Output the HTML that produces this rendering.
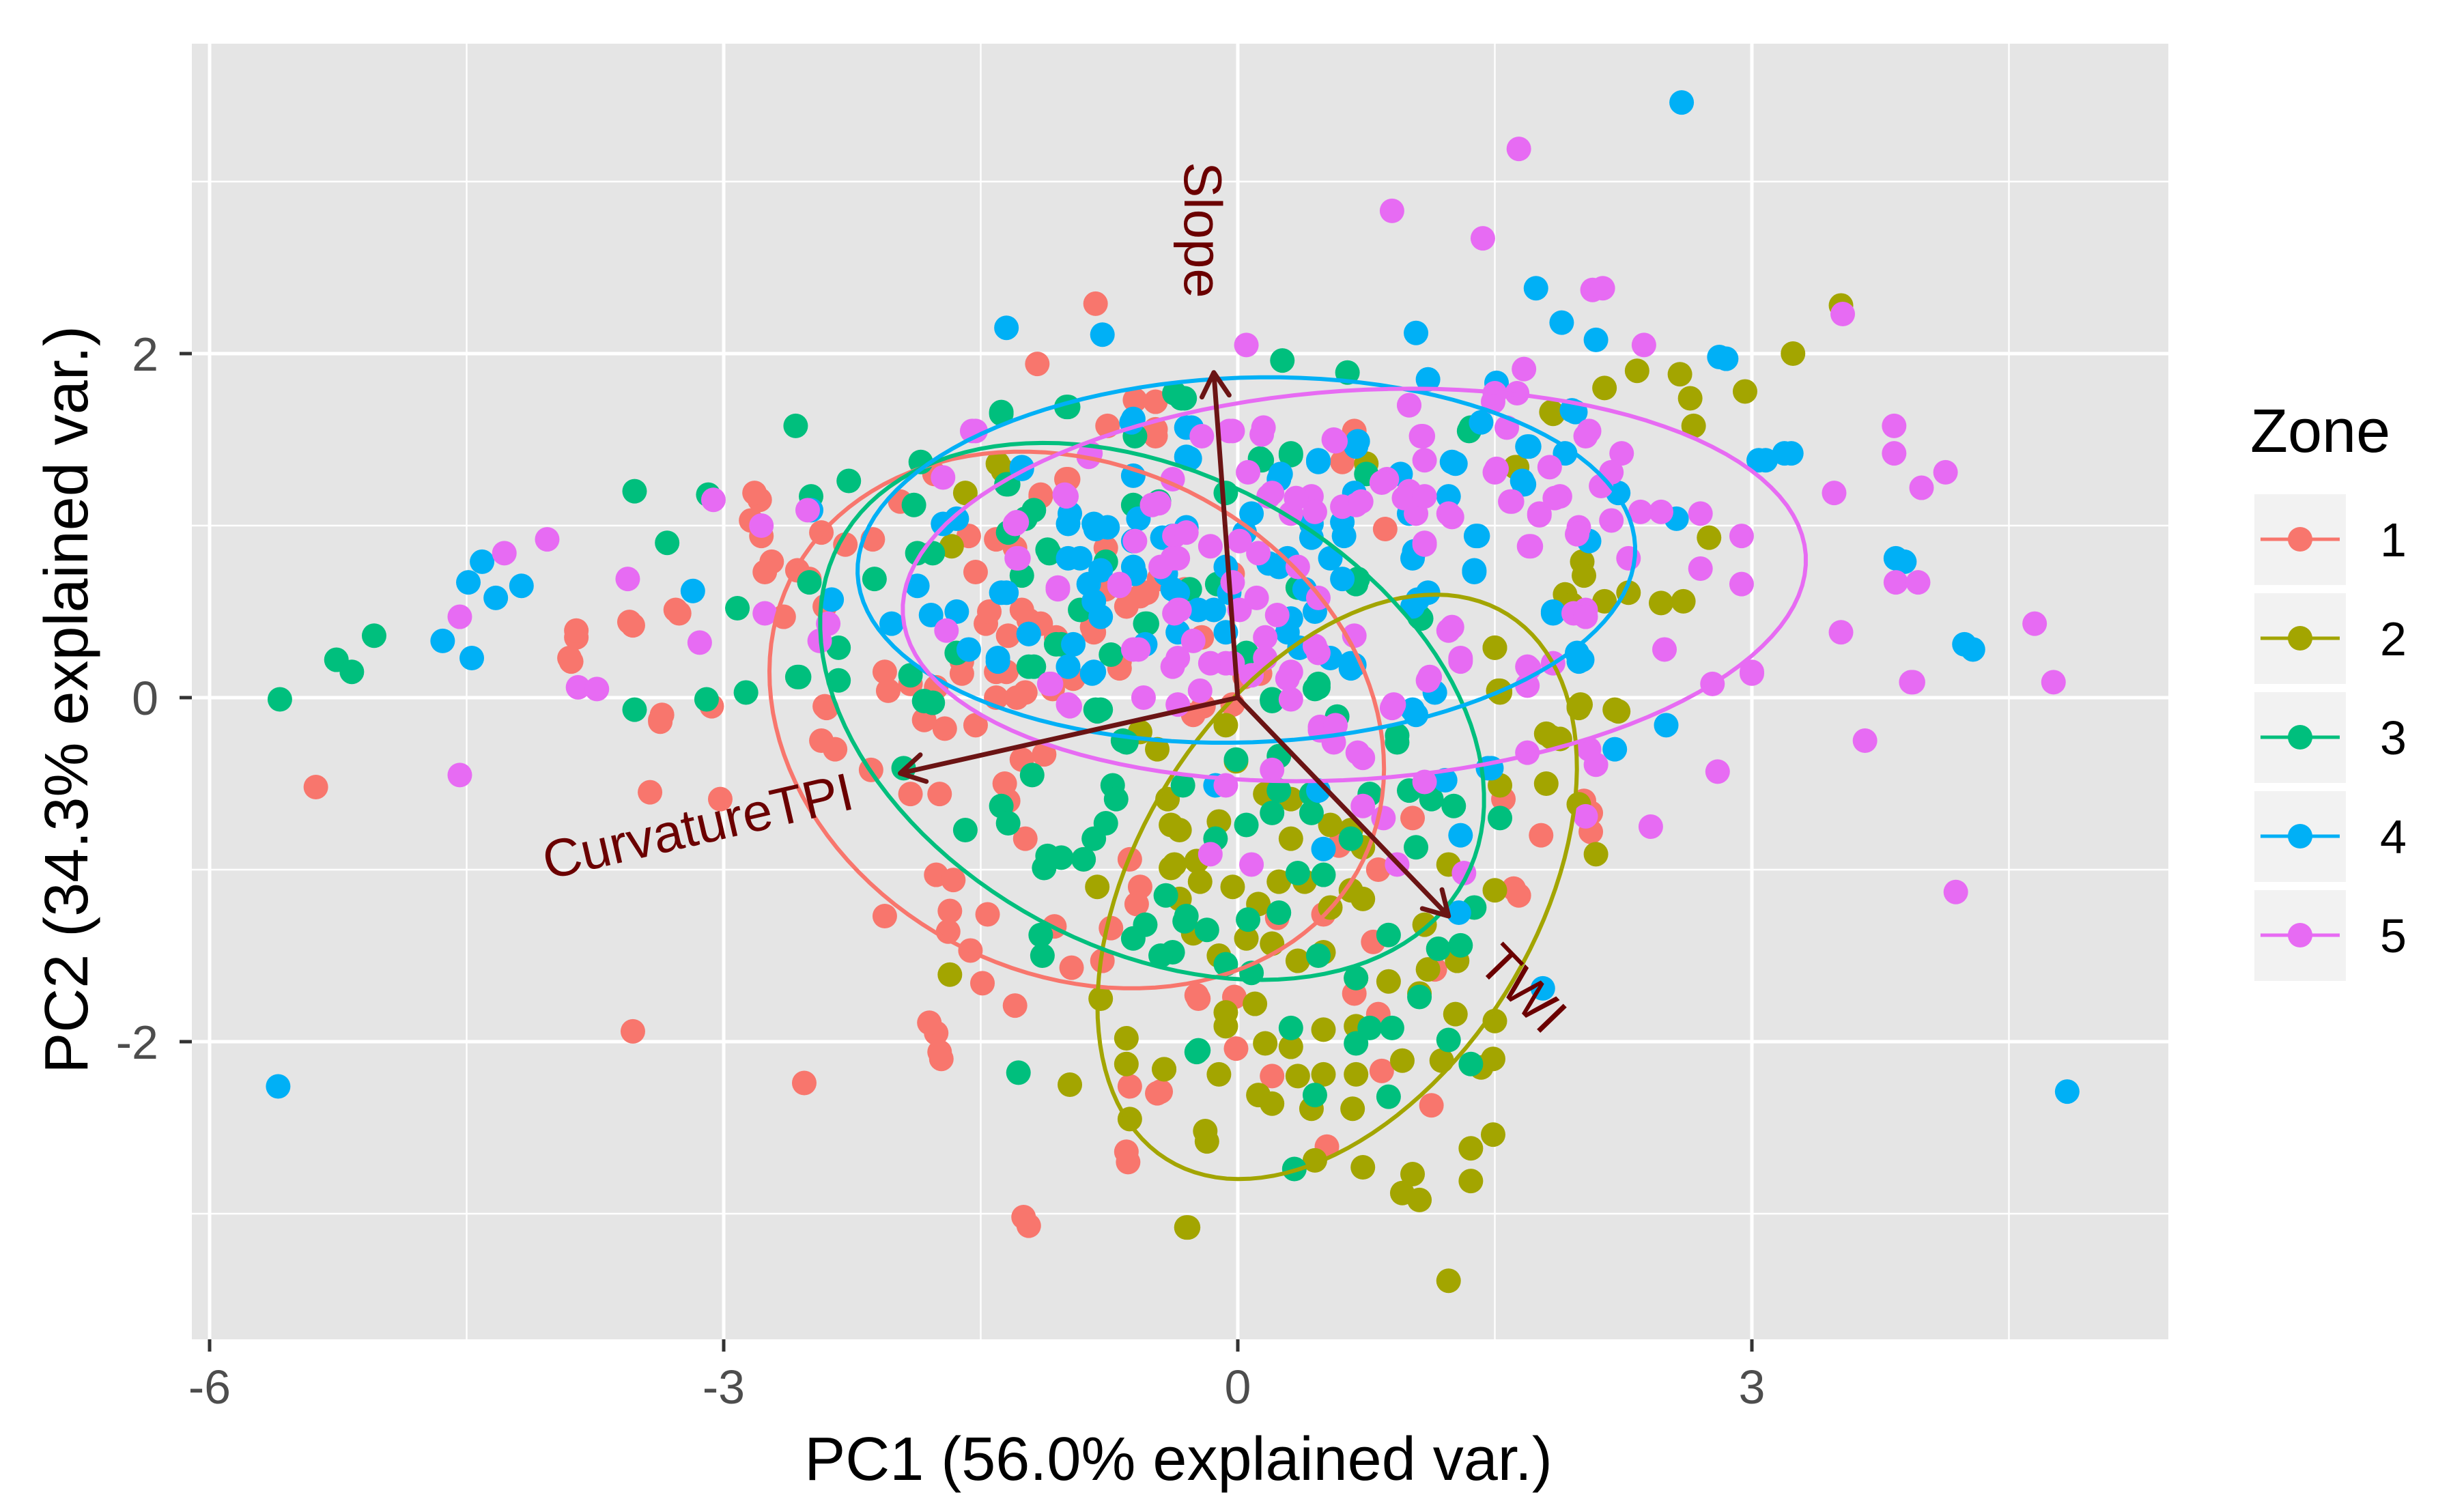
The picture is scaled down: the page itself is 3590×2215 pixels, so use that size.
<!DOCTYPE html>
<html><head><meta charset="utf-8"><title>PCA biplot by Zone</title>
<style>
html,body{margin:0;padding:0;background:#fff;}
svg{display:block;font-family:"Liberation Sans",Arial,sans-serif;}
</style></head>
<body>
<svg id="chart" width="3590" height="2215" viewBox="0 0 3590 2215" xmlns="http://www.w3.org/2000/svg">
<defs><clipPath id="pclip"><rect x="281" y="64" width="2895" height="1898"/></clipPath></defs>
<rect x="281" y="64" width="2895" height="1898" fill="#E5E5E5"/>
<g id="grid"></g>
<g id="pts" clip-path="url(#pclip)"></g>
<g id="ells" clip-path="url(#pclip)"></g>
<g id="arrows"></g>
<g id="axes"></g>
<text x="1726" y="2168" font-size="90" text-anchor="middle" fill="#000">PC1 (56.0% explained var.)</text>
<text transform="translate(128,1025) rotate(-90)" font-size="90" text-anchor="middle" fill="#000">PC2 (34.3% explained var.)</text>
<g id="legend">
<text x="3296" y="662" font-size="90" fill="#000">Zone</text>
</g>
</svg>
<script>
const xTicks=[-6,-3,0,3];
const xMinor=[-4.5,-1.5,1.5,4.5];
const yTicks=[-2,0,2];
const yMinor=[-3,-1,1,3];
const zones=["1","2","3","4","5"];
const zoneColors=["#F8766D","#A3A500","#00BF7D","#00B0F6","#E76BF3"];
const zone1Points=[[-5.38,-0.52],[-3.53,-1.94],[-2.53,-2.24],[-1.22,-3.07],[-0.83,2.29],[-1.17,1.94],[-1.73,-2.1],[-1.76,-1.95],[-0.64,-2.7],[-3.86,0.35],[-3.89,0.21],[-3.53,0.42],[-3.26,0.49],[-3.37,-0.14],[-3.02,-0.59],[-2.79,1.15],[-2.78,0.94],[-2.72,0.79],[-2.5,0.69],[-2.41,0.53],[2.06,-0.67],[2.06,-0.78],[1.64,-1.15],
[-2.4,-0.06],[-2.43,-0.25],[-2.35,-0.3],[-2.14,-0.42],[-1.91,-0.56],[-1.74,-0.56],[-1.76,-1.03],[-1.66,-1.06],[-1.68,-1.24],[-1.46,-1.26],[-1.69,-1.36],[-1.56,-1.47],[-2.06,-1.27],[-1.49,-1.66],[-1.3,-1.79],[-1.8,-1.89],[-1.74,-2.06],[-0.97,-1.57],[-0.79,-1.53],[-0.65,-2.64],[-0.47,-2.3],[-0.63,-2.26],[-1.24,-0.82],[-1.34,-0.6],[-1.36,-0.5],[-1.13,-0.33],[-1.71,-0.18],[-2.04,0.04],[-3.43,-0.55],[-3.37,-0.13],[-3.07,-0.05],[-1.25,-3.02],
[1.61,-1.11],[1.77,-0.8],[1.55,-0.59],[2.02,-0.6],[1.13,-2.37],[0.84,-2.17],[0.2,-2.2],[-0.01,-2.04],[-0.45,-2.29],[0.52,-2.61],[0.79,-1.42],[0.82,-1.0],[-0.24,-1.73],[-0.02,-1.74],[0.68,-1.72],[0.82,-1.84],[1.15,-1.58],[1.02,-0.7],[0.59,-0.86],[-0.2,-0.05],[0.5,-1.26],[0.23,-1.28],
[-2.82,1.19],[-2.84,1.03],[-2.43,0.96],[-2.29,0.89],[-2.13,0.92],[-2.76,0.73],[-2.57,0.74],[-2.65,0.47],[-3.28,0.51],[-3.55,0.44],[-3.86,0.39],[-3.9,0.23],[-1.97,1.14],[-1.77,1.3],[-0.48,1.52],[-0.6,1.73],
[-1.57,0.94],[-1.41,0.92],[-1.3,0.87],[-1.15,1.17],[-1.0,1.27],[-1.53,0.73],[-1.47,0.43],[-1.34,0.36],[-1.15,0.43],[-1.26,0.51],[-0.84,0.38],[-2.06,0.15],[-1.91,0.08],[-1.76,0.06],[-1.61,0.21],[-1.41,0.15],[-1.24,0.03],[-0.96,0.11],[-0.69,0.21],[-0.77,0.63],[-0.57,0.59],[-0.46,0.69],[-0.31,0.63],[-0.77,0.87],[-2.41,-0.05],[-3.36,-0.1],
[-1.61,0.14],[-1.53,-0.16],[-1.41,0],[-0.9,-0.94],[-0.63,-0.94],[-0.57,-1.1],[-0.74,-1.34],[-1.07,-1.33],[-0.23,-1.75],[-0.59,-1.2],[-1.26,-0.36],[-1.83,-0.13],
[-0.48,1.72],[-0.76,1.58],[-0.48,1.56],[-0.99,1.27],[-1.15,1.18],[-1.35,0.93],[-1.45,0.5],[-1.22,0.45],[-1.06,0.35],[-0.85,0.41],[-0.65,0.53],[-0.53,0.61],[-1.35,0.15],[-1.29,0],[-1.08,0.05],[-0.69,0.17],[-0.21,0.35],[0.04,0.12],[0.13,0.14],[-0.03,-0.04],[-0.26,-0.1],[0.61,1.37],[0.68,1.55],[0.86,0.98],[-0.03,0.72]];
const zone2Points=[[1.23,-3.39],[-0.3,-3.08],[1.06,-2.92],[0.96,-2.88],[1.02,-2.77],[1.36,-2.81],[1.36,-2.62],[1.49,-2.54],[0.73,-2.73],[0.45,-2.69],[-0.18,-2.58],[1.49,-2.1],[1.42,-2.15],
[1.19,-2.11],[0.96,-2.11],[0.67,-2.39],[0.43,-2.39],[0.2,-2.36],[0.12,-2.31],[0.69,-2.19],[0.5,-2.19],[0.35,-2.2],[-0.11,-2.19],[-0.43,-2.16],[0.16,-2.01],[0.31,-2.03],[0.5,-1.93],[0.69,-1.91],[-0.07,-1.91],[-0.07,-1.83],[0.1,-1.78],[1.27,-1.84],[1.5,-1.88],[1.06,-1.72],[1.11,-1.58],[1.28,-1.53],[0.69,-1.63],[0.88,-1.65],[0.35,-1.53],[0.5,-1.48],[0.2,-1.43],[0.05,-1.4],[-0.11,-1.5],[-0.26,-1.37],[-0.34,-1.17],[-0.22,-1.07],[-0.03,-1.1],[0.24,-1.07],[0.39,-1.07],[0.66,-1.12],[0.73,-1.17],[0.54,-1.22],[0.12,-1.2],[-0.37,-0.97],[-0.34,-0.77],[-0.11,-0.72],[0.31,-0.82],[0.54,-0.74],[0.66,-0.77],[0.73,-0.87],[1.23,-0.97],[1.5,-1.12],[1.09,-1.32],[-0.41,-0.59],[-0.01,-0.37],[0.16,-0.56],[0.31,-0.59],[1.8,-0.21],[1.88,-0.24],[1.99,-0.06],[2.22,-0.08],[1.53,0.04],[1.53,-0.51],[1.8,-0.5],[2.09,-0.91],[1.99,-0.62],[-0.07,-0.16],
[-1.68,-1.61],[-0.65,-1.98],[-0.65,-2.13],[-0.43,-2.16],[-0.98,-2.25],[-0.63,-2.45],[-0.29,-3.08],[-0.19,-2.52],[-0.82,-1.1],[-0.57,-0.2],[-0.47,-0.3],[-0.39,-0.74],[-0.39,-0.99],[-0.24,-0.95],[-0.8,-1.75],
[3.52,2.28],[3.24,2.0],[2.96,1.78],[2.64,1.74],[2.66,1.58],[2.58,1.88],[2.33,1.9],[2.14,1.8],[1.84,1.65],[2.75,0.93],[2.01,0.79],[1.91,0.6],[2.14,0.56],[2.28,0.61],[2.47,0.55],[2.6,0.56],[1.5,0.29],[1.63,1.34],[1.53,0.03],[1.99,-0.05],[2.2,-0.07],[-1.59,1.19],[-1.37,1.32],[-1.67,0.88],
[1.5,0.29],[1.52,0.04],[1.62,1.34],[1.83,1.66],[1.95,0.54],[2.02,0.71],[2.0,-0.04],[1.83,-0.23],[0.75,1.36],[-1.4,1.36]];
const zone3Points=[[-5.59,-0.01],[-5.26,0.22],[-5.17,0.15],[-5.04,0.36],[-3.52,1.2],[-3.33,0.9],[-3.09,1.18],[-2.92,0.52],[-2.58,1.58],[-2.49,1.17],[-2.27,1.26],[-1.89,1.12],[-1.85,1.37],[-2.12,0.69],[-2.5,0.67],[-2.33,0.29],[-2.56,0.12],[-2.33,0.1],[-2.87,0.03],[-3.1,-0.01],[-3.52,-0.07],[-1.38,1.65],[-1.0,1.69],[-0.31,1.74],[-1.34,1.24],
[-1.19,1.09],[-1.34,0.96],[-1.11,0.86],[-1.26,0.71],[-0.92,0.51],[-0.77,0.79],[-1.87,0.84],[-1.78,0.84],[-1.64,0.26],[-1.19,0.18],[-1.03,0.31],[-0.8,-0.07],[-0.54,0.43],[-0.61,1.12],[-0.46,1.14],[-1.83,-0.02],[-1.91,0.13],
[-2.57,0.12],[-1.95,-0.41],[-1.59,-0.77],[-1.78,-0.03],[-1.38,-0.63],[-1.34,-0.73],[-1.2,-0.45],[-1.11,-0.92],[-1.13,-0.99],[-1.03,-0.93],[-1.15,-1.38],[-1.14,-1.5],[-1.28,-2.18],[-0.9,-0.94],[-0.84,-0.82],[-0.77,-0.73],[-0.73,-0.51],[-0.71,-0.59],[-0.82,-0.08],[-0.65,-0.26],[-0.54,-1.32],[-0.61,-1.4],[-0.42,-1.15],[-0.31,-1.3],[-0.38,-1.48],[-0.23,-2.05],
[0.2,-0.01],[0.47,0.06],[0.93,-0.26],[1.53,-0.7],[1.26,-0.63],[1.04,-0.87],[1.38,-1.22],[1.3,-1.44],[1.17,-1.46],[0.88,-1.38],[1.06,-1.74],[1.23,-1.99],[1.36,-2.13],[0.88,-2.32],[0.45,-2.31],[0.69,-2.01],[0.31,-1.92],[0.77,-1.92],[0.9,-1.92],[-0.24,-2.06],[0.33,-2.74],[0.47,-1.5],[0.69,-1.63],[0.08,-1.6],[-0.07,-1.55],[-0.3,-1.27],[-0.18,-1.35],[0.06,-1.29],[0.24,-1.25],[0.35,-1.02],[0.5,-1.03],[0.05,-0.74],[0.2,-0.67],[0.43,-0.67],[0.66,-0.82],[0.77,-0.56],[1.0,-0.54],[1.13,-0.59],[0.43,-0.56],[0.24,-0.54],[-0.13,-0.82],[-0.32,-0.51],[0.58,-0.11],[0.24,-0.34],[-0.01,-0.36],[-0.45,-1.5],
[0.26,1.96],[0.64,1.89],[0.14,1.38],[0.31,1.41],[1.36,1.57],[0.69,0.66],[1.06,0.47],[0.47,0.08],[0.2,-0.02],[-0.37,1.77],[0.05,0.26],[0.35,0.64],
[-1.38,1.66],[-0.99,1.69],[-0.6,1.52],[-0.33,1.74],[-1.35,1.24],[-1.24,1.04],[-1.1,0.84],[-1.22,0.18],[-1.06,0.31],[-0.74,0.25],[-0.53,0.43],[-0.83,-0.07],[0.13,1.39],[0.31,1.42],[0.45,0.05],[0.2,-0.01],[0.7,0.69],[0.75,1.3],[1.35,1.55],[1.07,0.46],[0.93,-0.22],[-0.67,-0.25],[-0.07,1.19],[-0.28,0.63],[-0.12,0.66]];
const zone4Points=[[-5.6,-2.26],[2.59,3.46],[4.84,-2.29],[4.29,0.28],[3.89,0.79],[2.85,1.97],[3.23,1.42],[3.08,1.38],
[-1.35,2.15],[-0.79,2.11],[-4.41,0.79],[-4.49,0.67],[-4.33,0.58],[-4.18,0.65],[-4.64,0.33],[-4.47,0.23],[-3.18,0.62],[-2.49,1.09],[-2.37,0.57],[-2.02,0.43],[-1.87,0.65],[-1.79,0.48],[-1.64,0.5],[-1.57,0.28],[-1.4,0.23],[-1.22,0.37],[-0.99,0.18],[-0.84,0.15],[-1.38,0.61],[-1.72,1.01],[-1.64,1.04],[-1.26,1.34],[-0.61,0.91],[-0.61,1.29],[-0.61,1.62],[-0.27,1.57],[-0.29,1.39],[-0.98,1.07],[-0.84,1.01],[-0.99,0.81],[-0.8,0.74],[-0.61,0.76],[-0.38,0.94],[-0.38,0.63],[-0.23,0.51],[-0.84,0.56],[-0.54,0.31],[-0.35,0.38],[-0.96,0.31],
[1.74,2.38],[1.89,2.18],[2.09,2.08],[1.04,2.12],[2.81,1.98],[3.04,1.38],[3.19,1.42],[1.11,1.85],[1.51,1.83],[1.42,1.6],[1.69,1.46],[1.91,1.42],[1.97,1.66],[1.67,1.24],[1.27,1.36],[0.69,1.46],[0.47,1.38],[0.24,1.27],[0.08,1.07],[0.43,1.01],[0.62,0.94],[1.0,1.07],[1.23,1.17],[1.4,0.94],[1.38,0.74],[1.02,0.81],[2.22,1.19],[2.56,1.04],[2.05,0.91],[3.84,0.81],[4.24,0.31],[1.84,0.5],[2.01,0.22],[1.11,0.61],[1.02,0.53],[-0.3,1.57],[-0.28,1.39],[-0.3,0.99],[-0.07,0.76],[0.24,0.76],[0.54,0.81],[-0.14,0.51],[0.31,0.46],[0.66,0.2],
[1.78,-1.69],[1.29,-1.25],[1.3,-0.8],[0.5,-0.88],[2.5,-0.16],[2.2,-0.3],[1.48,-0.41],[1.21,-0.48],[1.04,-0.1],[1.15,0.03],[0.66,0.17],[1.99,0.21],[0.47,-0.54],[-0.13,-0.51],
[-0.3,1.4],[-0.83,0.98],[-0.99,1.01],[-0.76,0.99],[-0.58,1.04],[-0.44,0.93],[-0.92,0.81],[-0.87,0.66],[-0.6,0.72],[-0.42,0.72],[-0.35,0.61],[-0.8,0.47],[-1.22,0.37],[-0.99,0.18],[-0.85,0.14],[-1.4,0.21],[-1.35,0.61],[-0.07,0.38],[-0.05,0.61],[0.04,0.96],[0.18,0.78],[0.29,0.81],[0.39,0.63],[0.45,0.5],[0.29,0.38],[0.36,0.29],[0.54,0.23],[0.61,0.69],[0.61,1.02],[0.47,1.37],[0.7,1.49],[0.68,1.19],[0.95,1.3],[1.25,1.37],[1.39,0.94],[1.38,0.73],[1.03,0.85],[1.05,0.57],[0.68,0.19],[1.02,-0.07],[1.66,1.26],[1.7,1.46],[1.95,1.67],[1.84,0.49],[1.98,0.26],[1.46,-0.41],[-0.62,1.6],[-1.26,1.33],[0.25,1.3],[0.43,0.93]];
const zone5Points=[[-4.03,0.92],[-4.28,0.84],[-4.54,0.47],[-3.85,0.06],[-3.74,0.05],[-4.54,-0.45],[-3.14,0.32],[-3.06,1.15],[-3.56,0.69],[-2.78,1.0],[-2.76,0.49],[-2.51,1.09],[-1.53,1.55],[-1.72,1.28],
[0.05,2.05],[0.9,2.83],[1.43,2.67],[1.64,3.19],[2.07,2.37],[2.13,2.38],[2.37,2.05],[3.53,2.23],[3.83,1.58],[3.83,1.42],[4.13,1.31],[3.99,1.22],[3.48,1.19],[3.84,0.67],[3.97,0.67],[3.52,0.38],[4.65,0.43],[4.76,0.09],[3.93,0.09],[3.0,0.15],[2.77,0.08],[2.94,0.94],[2.94,0.66],[2.7,0.75],[2.7,1.07],[2.47,1.08],[2.35,1.08],[2.49,0.28],[2.24,1.42],[2.18,1.31],[2.12,1.23],[2.05,1.55],[2.18,1.03],[2.28,0.81],[1.99,0.99],[2.03,0.51],[1.88,1.17],[1.82,1.34],[1.76,1.07],[1.7,0.88],[1.59,1.14],[1.51,1.33],[1.57,1.57],[1.63,1.77],[1.67,1.91],[1.49,1.72],[1.0,1.7],[1.08,1.52],[1.09,1.38],[0.56,1.5],[0.14,1.53],[-0.05,1.55],[0.87,1.27],[1.0,1.2],[1.04,1.07],[1.23,1.07],[1.09,0.89],[0.43,1.17],[0.31,1.07],[0.18,1.17],[0.69,1.12],[-0.37,0.94],[-0.45,0.76],[0.01,0.91],[0.12,0.84],[0.35,0.76],[0.47,0.58],[0.01,0.51],[-0.34,0.51],[-0.26,0.33],[-0.07,0.2],[0.08,0.13],[0.31,0.15],[0.47,0.26],[1.25,0.41],[1.3,0.22],[1.11,0.1],[1.7,0.17],[1.84,0.2],
[-1.0,1.17],[-0.5,1.12],[-0.38,1.27],[-0.38,0.81],[-1.3,1.01],[-1.28,0.81],[-1.05,0.64],[-0.69,0.65],[-0.35,0.51],[-0.61,0.28],[-0.38,0.18],[-1.09,0.08],[-0.98,-0.05],[-1.7,0.39],[-2.39,0.43],[-2.44,0.33],[-1.55,1.55],[-0.86,1.42],[-0.21,1.52],
[0.9,-0.06],[0.48,-0.17],[0.56,-0.26],[0.73,-0.35],[0.2,-0.42],[-0.07,-0.51],[0.73,-0.63],[0.85,-0.7],[0.93,-0.97],[1.32,-1.02],[1.09,-0.49],[-0.16,-0.91],[0.08,-0.97],[1.69,-0.32],[2.03,-0.69],[2.09,-0.39],[2.41,-0.75],[2.8,-0.43],[3.66,-0.25],[4.19,-1.13],[3.0,0.14],[3.94,0.09],[1.69,0.07],[1.3,0.21],[0.31,-0.01],[-0.22,0.04],
[-0.03,1.55],[0.15,1.57],[0.06,1.31],[0.2,1.19],[0.34,1.16],[0.45,1.08],[0.57,1.49],[0.61,1.11],[0.72,1.14],[0.84,1.25],[0.97,1.16],[1.09,1.17],[1.25,1.05],[1.09,0.9],[1.07,1.52],[1.0,1.7],[1.5,1.31],[1.6,1.14],[1.76,1.06],[1.71,0.88],[1.85,1.16],[1.98,0.95],[2.03,1.52],[1.5,1.77],[-0.46,1.13],[-0.3,0.96],[-0.16,0.88],[-0.35,0.81],[-0.6,0.91],[-1.01,1.18],[-1.29,1.02],[-1.29,0.81],[-1.05,0.63],[-0.69,0.66],[-0.37,0.49],[-0.03,0.67],[0.11,0.58],[0.23,0.48],[0.16,0.35],[-0.16,0.2],[-0.03,0.2],[-0.35,0.23],[-0.58,0.28],[-1.1,0.08],[-0.99,-0.04],[-0.55,0],[-0.35,-0.04],[0.16,0.23],[0.29,0.11],[0.45,0.3],[0.48,-0.19],[0.57,-0.16],[0.7,-0.32],[0.68,0.36],[0.91,-0.04],[1.12,0.12],[1.23,0.39],[1.3,0.23],[1.69,0.18],[1.96,0.49],[2.03,0.47],[-0.87,1.4],[2.05,-0.3]];
const ellCenterX=[-0.94,0.58,-0.5,0.05,0.68];
const ellCenterY=[-0.13,-1.1,-0.08,0.8,0.655];
const ellA=[1.86,1.87,2.07,2.27,2.64];
const ellB=[1.48,1.16,1.38,1.06,1.13];
const ellAngle=[-26,57.8,-28.2,2,3.8];
const arrowNames=["Slope","CurvatureTPI","TWI"];
const arrowX=[-0.14,-1.97,1.23];
const arrowY=[1.89,-0.44,-1.27];

const NS="http://www.w3.org/2000/svg";
function sx(v){return 1813+v*251;}
function sy(v){return 1022-v*252;}
function mk(tag,attrs,parent){const e=document.createElementNS(NS,tag);for(const k in attrs)e.setAttribute(k,attrs[k]);parent.appendChild(e);return e;}

const grid=document.getElementById('grid');
xMinor.forEach(v=>{const l=mk('line',{x1:sx(v),x2:sx(v),y1:64,y2:1962,stroke:'#fff','stroke-width':2.4},grid);

});
yMinor.forEach(v=>{const l=mk('line',{x1:281,x2:3176,y1:sy(v),y2:sy(v),stroke:'#fff','stroke-width':2.4},grid);

});
xTicks.forEach(v=>{const l=mk('line',{x1:sx(v),x2:sx(v),y1:64,y2:1962,stroke:'#fff','stroke-width':5},grid);

});
yTicks.forEach(v=>{const l=mk('line',{x1:281,x2:3176,y1:sy(v),y2:sy(v),stroke:'#fff','stroke-width':5},grid);

});

const axes=document.getElementById('axes');
xTicks.forEach(v=>{const t=mk('line',{x1:sx(v),x2:sx(v),y1:1962,y2:1980,stroke:'#333','stroke-width':5},axes);


const tx=mk('text',{x:sx(v),y:2056,'font-size':70,'text-anchor':'middle',fill:'#4D4D4D'},axes);
tx.textContent=String(v);

});
yTicks.forEach(v=>{const t=mk('line',{x1:263,x2:281,y1:sy(v),y2:sy(v),stroke:'#333','stroke-width':5},axes);


const tx=mk('text',{x:232,y:sy(v)+25,'font-size':70,'text-anchor':'end',fill:'#4D4D4D'},axes);
tx.textContent=String(v);

});

const pts=document.getElementById('pts');
const allZones=[zone1Points,zone2Points,zone3Points,zone4Points,zone5Points];
allZones.forEach((arr,zi)=>{arr.forEach(p=>{const c=mk('circle',{cx:sx(p[0]),cy:sy(p[1]),r:18,fill:zoneColors[zi]},pts);

});});

const ells=document.getElementById('ells');
zones.forEach((z,i)=>{const th=ellAngle[i]*Math.PI/180;let d='';
for(let k=0;k<=120;k++){const t=k/120*2*Math.PI;
const x=ellCenterX[i]+ellA[i]*Math.cos(t)*Math.cos(th)-ellB[i]*Math.sin(t)*Math.sin(th);
const y=ellCenterY[i]+ellA[i]*Math.cos(t)*Math.sin(th)+ellB[i]*Math.sin(t)*Math.cos(th);
d+=(k?'L':'M')+sx(x).toFixed(1)+' '+sy(y).toFixed(1);}
const p=mk('path',{d:d+'Z',fill:'none',stroke:zoneColors[i],'stroke-width':6},ells);

});

const arrows=document.getElementById('arrows');
const labelPos=[[1762,337,90],[1022,1210,-13],[2231,1448,46]];
arrowNames.forEach((n,i)=>{const x0=sx(0),y0=sy(0),x1=sx(arrowX[i]),y1=sy(arrowY[i]);
const ang=Math.atan2(y1-y0,x1-x0),L=40,s=Math.PI/6;
const d='M'+x0+' '+y0+'L'+x1+' '+y1+'M'+(x1-L*Math.cos(ang-s))+' '+(y1-L*Math.sin(ang-s))+'L'+x1+' '+y1+'L'+(x1-L*Math.cos(ang+s))+' '+(y1-L*Math.sin(ang+s));
const a=mk('path',{d:d,fill:'none',stroke:'#6B1414','stroke-width':7,'stroke-linecap':'round','stroke-linejoin':'round'},arrows);


const lp=labelPos[i];
const t=mk('text',{transform:'translate('+lp[0]+','+lp[1]+') rotate('+lp[2]+')','font-size':78,'text-anchor':'middle','dominant-baseline':'central',fill:'#6B0000'},arrows);
t.textContent=n;

});

const leg=document.getElementById('legend');
zones.forEach((z,i)=>{const cy=790+i*145;
const r=mk('rect',{x:3302,y:cy-66,width:134,height:133,fill:'#F2F2F2'},leg);


const l=mk('line',{x1:3311,x2:3427,y1:cy,y2:cy,stroke:zoneColors[i],'stroke-width':5},leg);


const c=mk('circle',{cx:3369,cy:cy,r:18,fill:zoneColors[i]},leg);


const t=mk('text',{x:3486,y:cy+25,'font-size':70,fill:'#000'},leg);
t.textContent=z;

});
</script>
</body></html>
